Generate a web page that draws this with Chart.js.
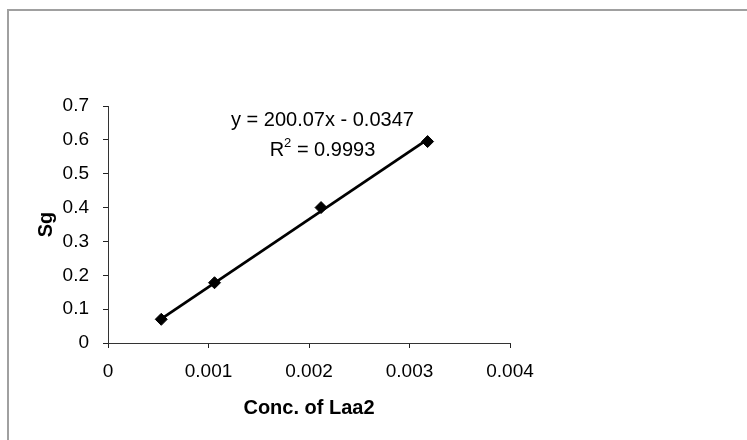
<!DOCTYPE html>
<html>
<head>
<meta charset="utf-8">
<script src="https://cdn.jsdelivr.net/npm/chart.js@4"></script>
<style>
  html, body { margin: 0; padding: 0; background: #fff; }
  #wrap { width: 747px; height: 440px; position: relative; }
</style>
</head>
<body>
<div id="wrap"><canvas id="myChart" width="747" height="440"></canvas></div>
<script>
// calibration data for Laa2
const conc = [0.00053, 0.00106, 0.00212, 0.00318];
const sg = [0.07, 0.178, 0.40, 0.595];
const xTickLabels = ["0", "0.001", "0.002", "0.003", "0.004"];
const yTickLabels = ["0", "0.1", "0.2", "0.3", "0.4", "0.5", "0.6", "0.7"];

// linear fit reported on the chart
const slope = 200.07;
const intercept = -0.0347;
const rSquared = "0.9993";

const points = conc.map((x, i) => ({ x: x, y: sg[i] }));
const xFirst = conc[0];
const xLast = conc[conc.length - 1];
const fitLine = [
  { x: xFirst, y: slope * xFirst + intercept },
  { x: xLast, y: slope * xLast + intercept }
];

const font = "'Liberation Sans', Arial, sans-serif";

// grey frame round the plot
const framePlugin = {
  id: "frame",
  beforeDraw(chart) {
    const ctx = chart.ctx;
    ctx.save();
    ctx.strokeStyle = "#a0a0a0";
    ctx.lineWidth = 2;
    ctx.beginPath();
    ctx.moveTo(8, 440);
    ctx.lineTo(8, 10);
    ctx.lineTo(747, 10);
    ctx.stroke();
    ctx.restore();
  }
};

// equation and R² text next to the fit
const fitLabelPlugin = {
  id: "fitLabel",
  afterDatasetsDraw(chart) {
    const ctx = chart.ctx;
    const xs = chart.scales.x, ys = chart.scales.y;
    const cx = xs.getPixelForValue(0.002134);
    const eqY = ys.getPixelForValue(0.656);
    const r2Y = ys.getPixelForValue(0.570);
    ctx.save();
    ctx.fillStyle = "#000";
    ctx.textBaseline = "middle";
    ctx.font = "20px " + font;
    ctx.textAlign = "center";
    const sign = intercept < 0 ? " - " : " + ";
    ctx.fillText("y = " + slope.toFixed(2) + "x" + sign + Math.abs(intercept).toFixed(4), cx, eqY);

    // R with a small raised 2
    ctx.textAlign = "left";
    const rest = " = " + rSquared;
    const wR = ctx.measureText("R").width;
    const wRest = ctx.measureText(rest).width;
    ctx.font = "13px " + font;
    const wSup = ctx.measureText("2").width;
    let x = cx - (wR + wSup + wRest) / 2;
    ctx.font = "20px " + font;
    ctx.fillText("R", x, r2Y);
    x += wR;
    ctx.font = "13px " + font;
    ctx.fillText("2", x, r2Y - 7);
    x += wSup;
    ctx.font = "20px " + font;
    ctx.fillText(rest, x, r2Y);
    ctx.restore();
  }
};

const ctx = document.getElementById("myChart").getContext("2d");
const myChart = new Chart(ctx, {
  type: "scatter",
  data: {
    datasets: [{
      label: "Sg",
      data: points,
      pointStyle: "rectRot",
      pointRadius: 6,
      backgroundColor: "#000",
      borderColor: "#000",
      borderWidth: 1,
      showLine: false,
      order: 1
    }, {
      label: "Linear fit",
      data: fitLine,
      showLine: true,
      borderColor: "#000",
      borderWidth: 2.8,
      pointRadius: 0,
      order: 2
    }]
  },
  options: {
    responsive: false,
    animation: false,
    layout: { padding: { left: 0, top: 106, right: 237, bottom: 0 } },
    plugins: {
      legend: { display: false },
      tooltip: { enabled: false }
    },
    scales: {
      x: {
        type: "linear",
        min: 0,
        max: 0.004,
        afterFit(scale) { scale.height = 97; },
        grid: { drawOnChartArea: false, drawTicks: true, tickLength: 5, tickColor: "#222" },
        border: { color: "#333", width: 1 },
        ticks: {
          stepSize: 0.001,
          padding: 12,
          color: "#000",
          font: { family: font, size: 19 },
          callback: (v, i) => xTickLabels[i]
        },
        title: {
          display: true,
          text: "Conc. of Laa2",
          color: "#000",
          font: { family: font, size: 20, weight: "bold" },
          padding: { top: 0, bottom: 20 }
        }
      },
      y: {
        min: 0,
        max: 0.7,
        afterFit(scale) { scale.width = 108; },
        grid: { drawOnChartArea: false, drawTicks: true, tickLength: 5, tickColor: "#222" },
        border: { color: "#333", width: 1 },
        ticks: {
          stepSize: 0.1,
          padding: 14,
          color: "#000",
          font: { family: font, size: 19 },
          callback: (v, i) => yTickLabels[i]
        },
        title: {
          display: true,
          text: "Sg",
          color: "#000",
          font: { family: font, size: 20, weight: "bold" },
          padding: { top: 34, bottom: 0 }
        }
      }
    }
  },
  plugins: [framePlugin, fitLabelPlugin]
});
</script>
</body>
</html>
